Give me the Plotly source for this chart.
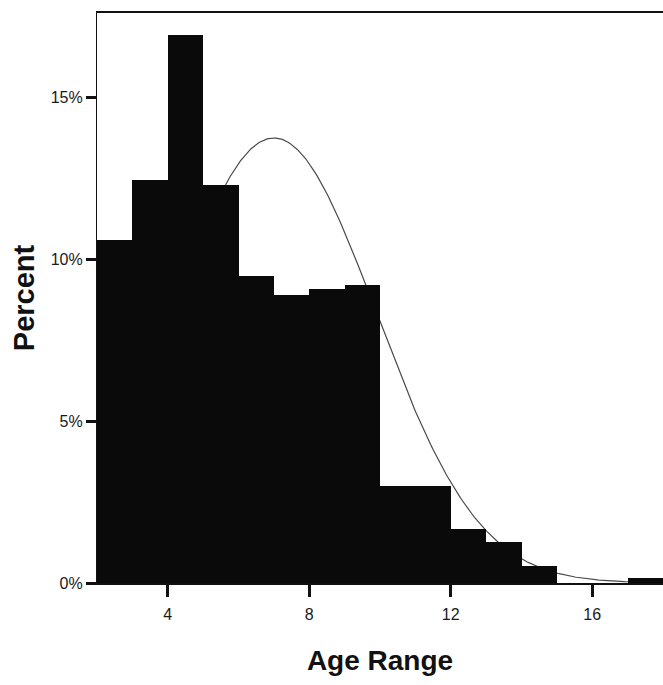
import numpy as np
import plotly.graph_objects as go

# Histogram bins (age, width 1) and percentages
bin_left = [2, 3, 4, 5, 6, 7, 8, 9, 10, 11, 12, 13, 14, 15, 16, 17]
percent = [10.6, 12.45, 16.95, 12.3, 9.5, 8.9, 9.1, 9.2, 3.0, 3.0, 1.67, 1.27, 0.53, 0.0, 0.0, 0.15]

curve_mean = 7.0
curve_sd = 2.9
bin_width = 1.0

x_ticks = [4, 8, 12, 16]
x_tick_labels = ["4", "8", "12", "16"]
y_ticks = [0, 5, 10, 15]
y_tick_labels = ["0%", "5%", "10%", "15%"]

centers = [b + bin_width / 2 for b in bin_left]
cx = np.linspace(2, 18, 400)
cy = 100 * bin_width / (curve_sd * np.sqrt(2 * np.pi)) * np.exp(-0.5 * ((cx - curve_mean) / curve_sd) ** 2)

fig = go.Figure()
# curve on base axes (drawn beneath)
fig.add_trace(go.Scatter(x=cx, y=cy, mode="lines", line=dict(color="#4a4a4a", width=1.2),
                         xaxis="x", yaxis="y", showlegend=False, hoverinfo="skip"))
# bars on overlaying axes (drawn above the curve)
fig.add_trace(go.Bar(x=centers, y=percent, width=bin_width, marker=dict(color="#0a0a0a", line=dict(width=0)),
                     xaxis="x2", yaxis="y2", showlegend=False))

XR = [2, 18]
YR = [0, 17.62]
font = "Liberation Sans, Arial, Helvetica, sans-serif"

fig.update_layout(
    width=663, height=685,
    margin=dict(l=97, r=0, t=13, b=102),
    paper_bgcolor="white", plot_bgcolor="white",
    bargap=0,
    font=dict(family=font, color="#111"),
    xaxis=dict(range=XR, tickmode="array", tickvals=x_ticks, ticktext=x_tick_labels, ticks="outside",
               ticklen=12, tickwidth=3, tickcolor="#111",
               showline=True, linecolor="#111", linewidth=1.5, mirror=True, showgrid=False, zeroline=False,
               tickfont=dict(size=16, color="#1a1a1a"), ticklabelstandoff=4,
               title=dict(text="<b>Age Range</b>", font=dict(size=28, color="#111"), standoff=28)),
    yaxis=dict(range=YR, tickmode="array", tickvals=y_ticks, ticktext=y_tick_labels, ticks="outside",
               ticklen=10, tickwidth=3,
               tickcolor="#111", showline=True, linecolor="#111", linewidth=1.2, showgrid=False, zeroline=False,
               tickfont=dict(size=16, color="#1a1a1a"),
               title=dict(text="<b>Percent</b>", font=dict(size=29, color="#111"), standoff=7)),
    xaxis2=dict(range=XR, overlaying="x", visible=False),
    yaxis2=dict(range=YR, overlaying="y", visible=False),
)

fig.write_html("out.html")
